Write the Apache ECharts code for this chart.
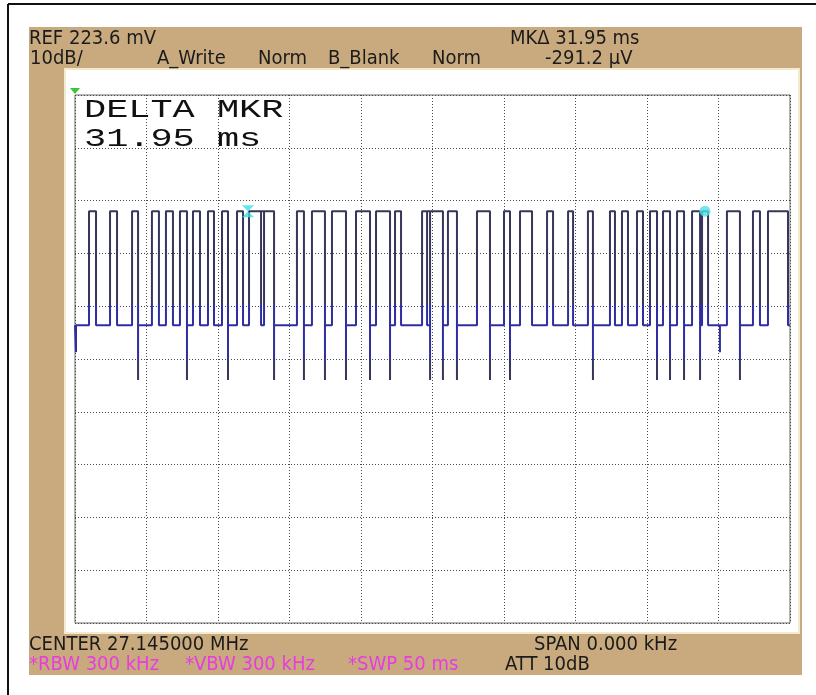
<!DOCTYPE html>
<html><head><meta charset="utf-8">
<script src="https://cdn.jsdelivr.net/npm/echarts@6/dist/echarts.min.js"></script>
<style>html,body{margin:0;padding:0;background:#fff}#c{width:816px;height:695px}</style>
</head><body><div id="c"></div>
<script>
// Sweep time axis (ms) and level axis (dB below reference)
const xTicksMs = [0, 5, 10, 15, 20, 25, 30, 35, 40, 45, 50];
const yTicksDb = [0, -10, -20, -30, -40, -50, -60, -70, -80, -90, -100];
const highDb = -22.0, lowDb = -43.6, dipDb = -48.7;
// pulse rising / falling edge times (ms)
const riseMs = [0.98, 2.45, 3.99, 5.38, 6.36, 7.34, 8.25, 9.30, 10.28, 11.33, 12.17, 13.01, 15.52, 16.57, 17.97, 19.65, 21.05, 22.38, 24.27, 24.62, 26.08, 28.11, 30.00, 31.12, 33.01, 34.48, 35.87, 37.41, 38.25, 39.30, 40.21, 41.12, 42.10, 43.15, 43.85, 45.59, 47.41, 48.46];
const fallMs = [1.47, 2.94, 4.41, 5.87, 6.85, 7.83, 8.74, 9.72, 10.70, 11.75, 13.22, 13.92, 16.01, 17.48, 18.95, 20.63, 22.03, 22.80, 24.83, 25.73, 26.71, 29.02, 30.42, 31.96, 33.43, 34.83, 36.22, 37.76, 38.67, 39.72, 40.70, 41.61, 42.59, 43.71, 44.27, 46.50, 47.90, 49.86];
const fallDepthDb = [-43.6, -43.6, -54, -43.6, -43.6, -54, -43.6, -43.6, -54, -43.6, -43.6, -54, -54, -54, -54, -54, -54, -43.6, -54, -54, -54, -54, -54, -43.6, -43.6, -43.6, -54, -43.6, -43.6, -43.6, -54, -54, -54, -54, -43.6, -54, -43.6, -43.6];
// short isolated dips below the low level (ms)
const dipMs = [0.07, 45.10];
// delta marker pair (ms, dB)
const markerPts = [[12.10, -22.0], [44.05, -22.0]];
const headerLine1 = ["REF 223.6 mV", "MKΔ 31.95 ms"];
const headerLine2 = ["10dB/", "A_Write", "Norm", "B_Blank", "Norm", "-291.2 µV"];
const footerLine1 = ["CENTER 27.145000 MHz", "SPAN 0.000 kHz"];
const footerLine2 = ["*RBW 300 kHz", "*VBW 300 kHz", "*SWP 50 ms", "ATT 10dB"];
const deltaText = ["DELTA MKR", "31.95 ms"];

// build trace points (time, level) from the edge lists
const events = [];
dipMs.forEach(t => events.push({t: t, pts: [[t, lowDb], [t, dipDb], [t, lowDb]]}));
for (let i = 0; i < riseMs.length; i++) {
  events.push({t: riseMs[i], pts: [[riseMs[i], lowDb], [riseMs[i], highDb], [fallMs[i], highDb], [fallMs[i], fallDepthDb[i]], [fallMs[i], lowDb]]});
}
events.sort((a, b) => a.t - b.t);
const trace = [[0, lowDb]];
events.forEach(e => e.pts.forEach(p => trace.push(p)));
trace.push([50, lowDb]);

const chart = echarts.init(document.getElementById('c'), null, {renderer: 'canvas'});
const narrow = '"Liberation Sans Narrow","DejaVu Sans Condensed",sans-serif';
function txt(t, x, y, fill) {
  return {type: 'text', z: 10, x: x, y: y, style: {text: t, fill: fill || '#1b1b1b', fontSize: 20, fontFamily: narrow, textVerticalAlign: 'middle'}};
}
const hx2 = [30, 157, 258, 328, 432, 545];
const fx2 = [29, 185, 348, 505];
const mono = '"Liberation Mono","DejaVu Sans Mono",monospace';
const graphics = [
  {type: 'rect', z: -20, shape: {x: 0, y: 0, width: 816, height: 695}, style: {fill: '#ffffff'}},
  {type: 'line', z: -19, shape: {x1: 8, y1: 4, x2: 816, y2: 4}, style: {stroke: '#111', lineWidth: 2}},
  {type: 'line', z: -19, shape: {x1: 8, y1: 4, x2: 8, y2: 695}, style: {stroke: '#111', lineWidth: 2}},
  {type: 'rect', z: -18, shape: {x: 29, y: 27, width: 773, height: 648}, style: {fill: '#c9aa7e'}},
  {type: 'rect', z: -17, shape: {x: 65, y: 69, width: 734, height: 564}, style: {fill: '#ffffff', stroke: '#f3e9cc', lineWidth: 2}},
  {type: 'polygon', z: 10, shape: {points: [[70, 88], [80, 88], [75, 94]]}, style: {fill: '#3cc43c'}},
  txt(headerLine1[0], 29, 39), txt(headerLine1[1], 510, 39),
  ...headerLine2.map((t, i) => txt(t, hx2[i], 59)),
  txt(footerLine1[0], 29, 645), txt(footerLine1[1], 534, 645),
  ...footerLine2.map((t, i) => txt(t, fx2[i], 665, i < 3 ? '#e83ce0' : '#1b1b1b')),
  {type: 'text', z: 10, x: 84, y: 97, scaleX: 1.42, style: {text: deltaText[0], fill: '#111', fontSize: 26, fontFamily: mono, textVerticalAlign: 'top'}},
  {type: 'text', z: 10, x: 84, y: 126, scaleX: 1.42, style: {text: deltaText[1], fill: '#111', fontSize: 26, fontFamily: mono, textVerticalAlign: 'top'}}
];
const axisCommon = {axisLabel: {show: false}, axisTick: {show: false}, axisLine: {show: false},
  splitLine: {show: true, lineStyle: {color: '#4a4a4a', type: [1, 2], width: 1}}};
chart.setOption({
  animation: false,
  grid: {left: 75, top: 95, width: 715, height: 528, show: true, borderColor: '#6a6a6a', borderWidth: 1, backgroundColor: 'transparent'},
  xAxis: Object.assign({type: 'value', min: xTicksMs[0], max: xTicksMs[xTicksMs.length - 1], interval: 5}, axisCommon),
  yAxis: Object.assign({type: 'value', min: yTicksDb[yTicksDb.length - 1], max: yTicksDb[0], interval: 10}, axisCommon),
  visualMap: {show: false, type: 'piecewise', dimension: 1, seriesIndex: 0,
    pieces: [{gt: -50, lte: -39.5, color: '#2e2ea2'}], outOfRange: {color: '#36365c'}},
  graphic: {elements: graphics},
  series: [
    {type: 'line', data: trace, showSymbol: false, lineStyle: {width: 2}, z: 3},
    {type: 'scatter', data: [markerPts[0]], symbol: 'path://M0,0 L10,0 L0,10 L10,10 Z', symbolSize: [12, 12], itemStyle: {color: '#3fe0e0'}, z: 5},
    {type: 'scatter', data: [markerPts[1]], symbol: 'circle', symbolSize: 11, itemStyle: {color: '#4fe0e6'}, z: 5}
  ]
});
</script></body></html>
